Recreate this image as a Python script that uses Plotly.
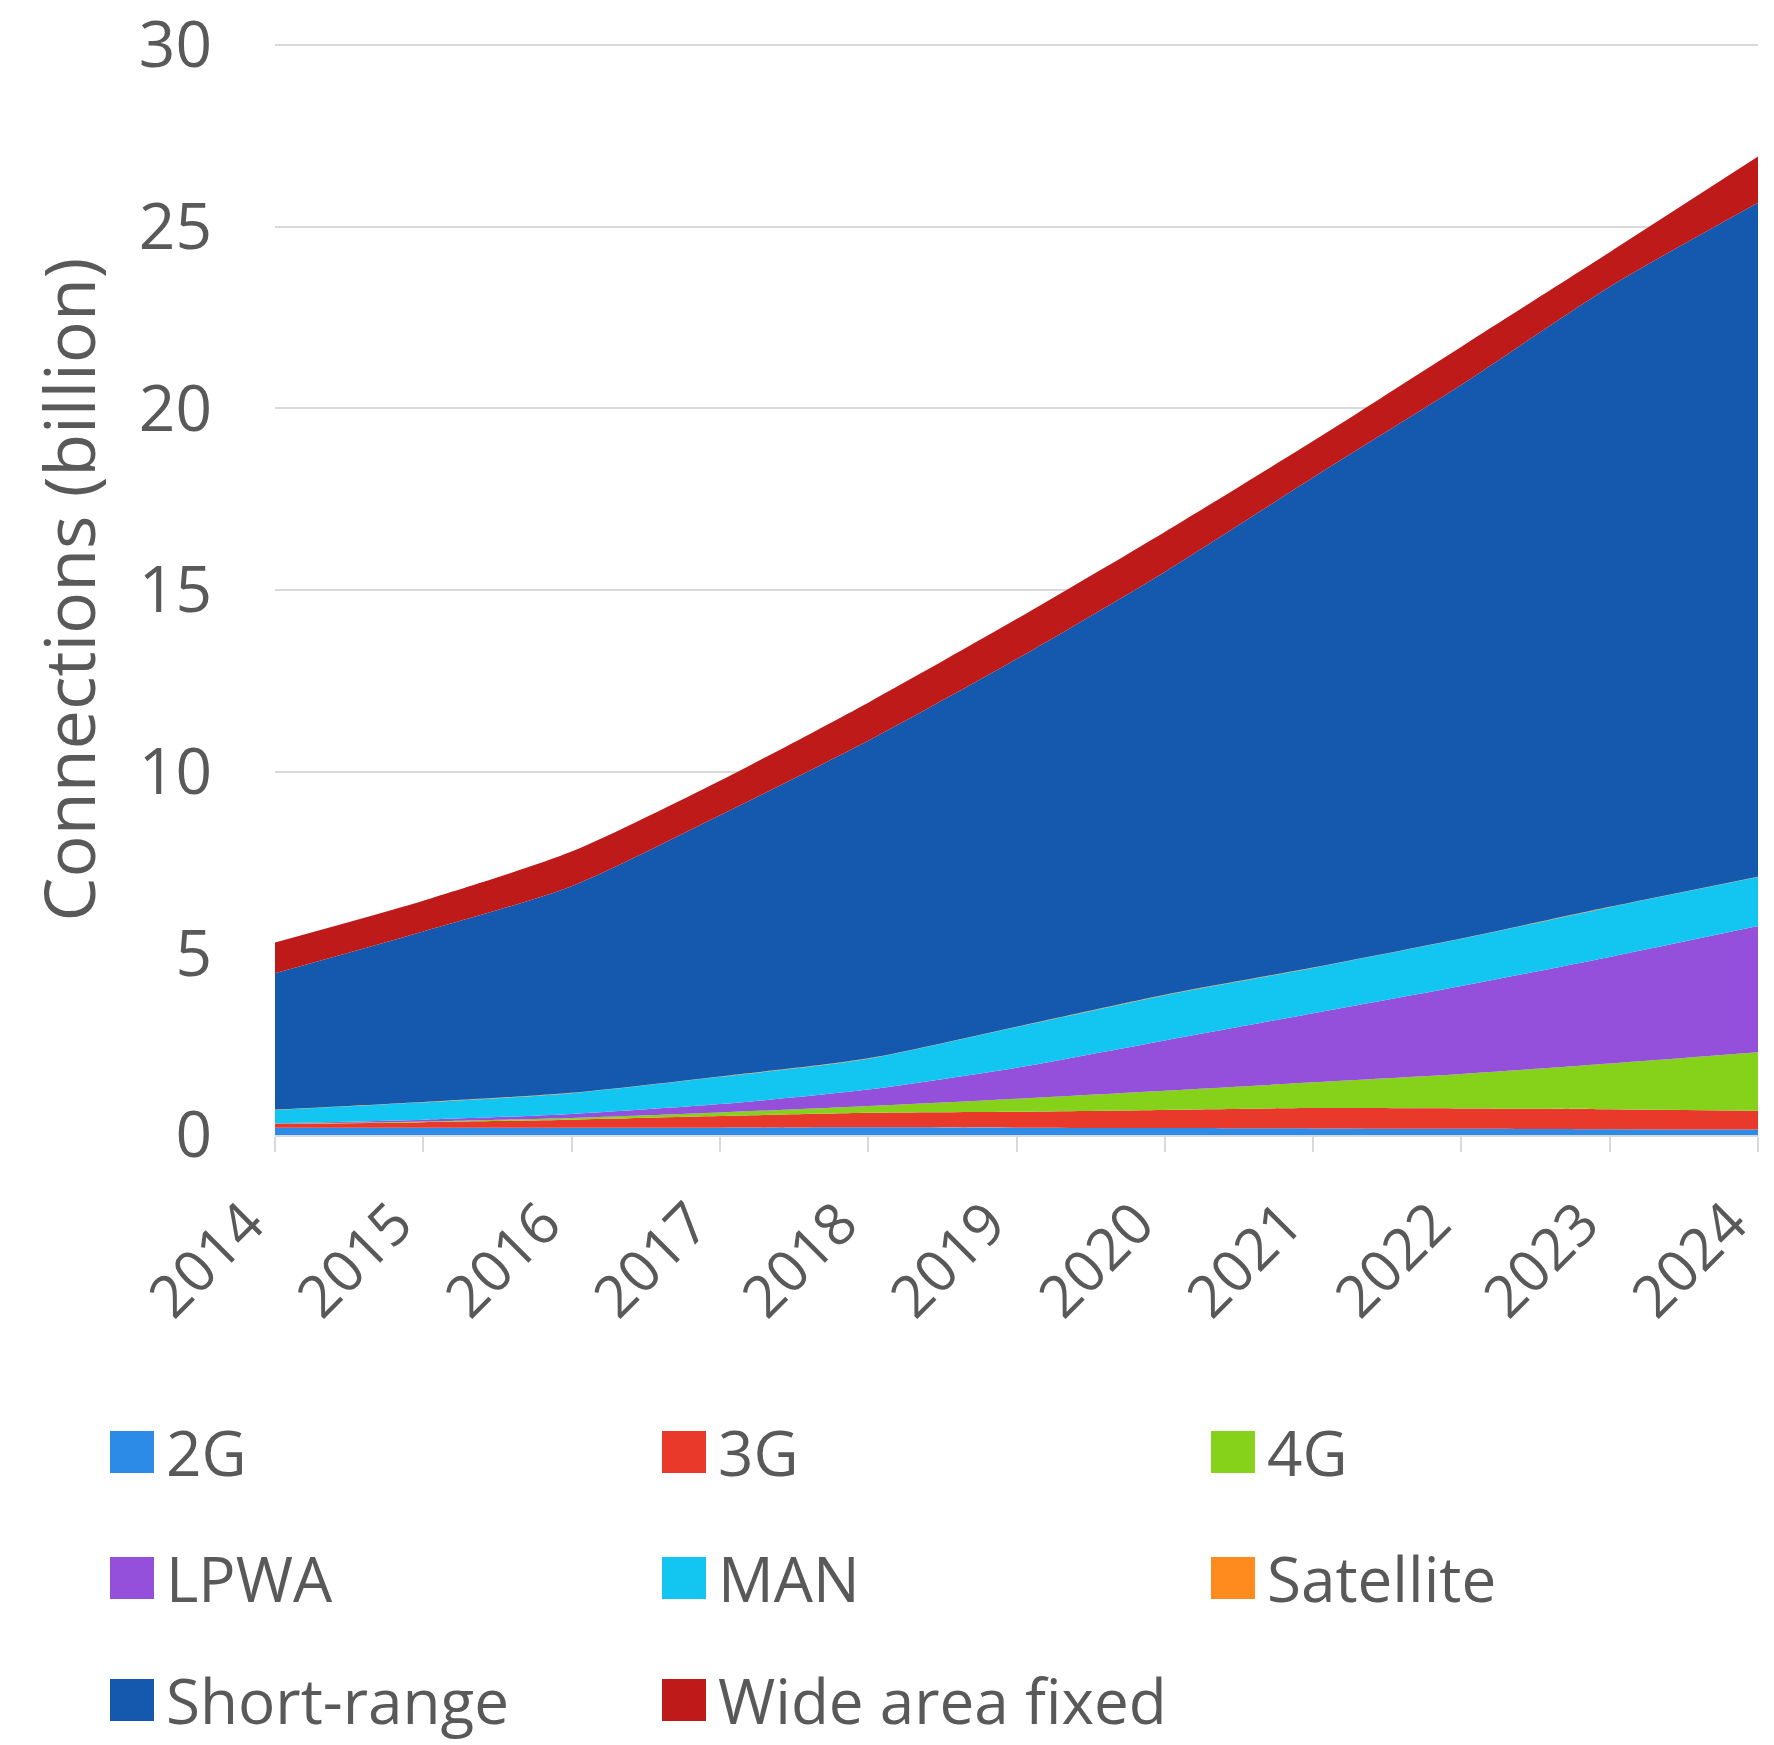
import plotly.graph_objects as go

years = [2014, 2015, 2016, 2017, 2018, 2019, 2020, 2021, 2022, 2023, 2024]

names = ["2G", "3G", "4G", "LPWA", "MAN", "Satellite", "Short-range", "Wide area fixed"]

v_2g = [0.20, 0.20, 0.20, 0.20, 0.21, 0.20, 0.19, 0.18, 0.17, 0.16, 0.15]
v_3g = [0.10, 0.15, 0.22, 0.32, 0.40, 0.44, 0.50, 0.56, 0.56, 0.55, 0.52]
v_4g = [0.01, 0.02, 0.05, 0.10, 0.19, 0.36, 0.53, 0.71, 0.95, 1.26, 1.61]
v_lpwa = [0.01, 0.05, 0.11, 0.23, 0.45, 0.85, 1.38, 1.90, 2.42, 2.93, 3.47]
v_man = [0.37, 0.48, 0.57, 0.75, 0.85, 1.12, 1.25, 1.25, 1.30, 1.37, 1.35]
v_sat = [0.01, 0.01, 0.01, 0.01, 0.01, 0.01, 0.01, 0.01, 0.01, 0.01, 0.01]
v_short = [3.75, 4.69, 5.69, 7.19, 8.74, 10.12, 11.64, 13.49, 15.24, 17.07, 18.55]
v_waf = [0.85, 0.85, 0.95, 0.95, 1.05, 1.10, 1.10, 1.00, 1.05, 0.95, 1.27]

series = [v_2g, v_3g, v_4g, v_lpwa, v_man, v_sat, v_short, v_waf]
colors = ["#2B8BE6", "#E8392A", "#86D21A", "#9450DB", "#13C6F2", "#FF8A1E", "#1459AD", "#BE1A1A"]

y_ticks = [0, 5, 10, 15, 20, 25, 30]

FONT = "Open Sans"
GRAY = "#595959"

fig = go.Figure()
for name, vals, col in zip(names, series, colors):
    fig.add_trace(go.Scatter(
        x=years, y=vals, name=name, stackgroup="one", mode="lines",
        line=dict(width=0, color=col, shape="spline", smoothing=0.7),
        fillcolor=col, showlegend=False,
    ))

W, H = 1774, 1745
L, R, T, B = 275, 16, 44, 610
pw, ph = W - L - R, H - T - B


def px_to_paper(px, py):
    return (px - L) / pw, (H - B - py) / ph


# legend laid out in a 3-column grid
col_x = [110, 662, 1211]
row_y = [1452, 1578, 1700]
sw, sh = 44, 42
shapes = []
annotations = []
for i, (name, col) in enumerate(zip(names, colors)):
    r, c = divmod(i, 3)
    x0, y0 = px_to_paper(col_x[c], row_y[r] - sh / 2)
    x1, y1 = px_to_paper(col_x[c] + sw, row_y[r] + sh / 2)
    shapes.append(dict(type="rect", xref="paper", yref="paper", x0=x0, x1=x1,
                       y0=y1, y1=y0, fillcolor=col, line=dict(width=0)))
    tx, ty = px_to_paper(col_x[c] + sw + 10, row_y[r])
    annotations.append(dict(xref="paper", yref="paper", x=tx, y=ty, text=name,
                            showarrow=False, xanchor="left", yanchor="middle",
                            font=dict(family=FONT, size=62, color=GRAY)))

fig.update_layout(
    width=W, height=H,
    margin=dict(l=L, r=R, t=T, b=B, autoexpand=False),
    paper_bgcolor="white", plot_bgcolor="white",
    showlegend=False,
    shapes=shapes, annotations=annotations,
    xaxis=dict(
        range=[2014, 2024], tickmode="array", tickvals=years,
        ticktext=[str(y) for y in years], tickangle=-45,
        ticks="outside", ticklen=15, tickcolor="#D9D9D9", tickwidth=2,
        showline=True, linecolor="#D9D9D9", linewidth=2,
        showgrid=False, zeroline=False,
        tickfont=dict(family=FONT, size=58, color=GRAY),
        ticklabelstandoff=14, ticklabelshift=-28, ticklabeloverflow="allow",
    ),
    yaxis=dict(
        range=[0, 30.03], tickmode="array", tickvals=y_ticks,
        ticks="", showline=False, zeroline=False,
        showgrid=True, gridcolor="#D9D9D9", gridwidth=2,
        tickfont=dict(family=FONT, size=64, color=GRAY),
        ticklabelstandoff=62, ticklabeloverflow="allow",
        title=dict(text="Connections (billion)", standoff=20,
                   font=dict(family=FONT, size=70, color=GRAY)),
    ),
)

fig.write_html("out.html")
